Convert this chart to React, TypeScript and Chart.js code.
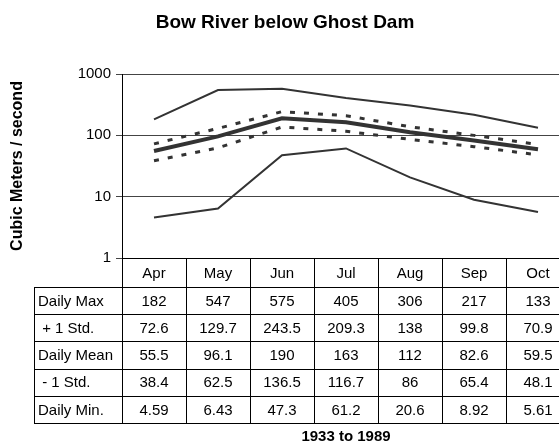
import React, { useEffect, useRef } from "react";
import { Chart, registerables } from "chart.js";

Chart.register(...registerables);

const categories = ["Apr", "May", "Jun", "Jul", "Aug", "Sep", "Oct"];
const dailyMax = [182, 547, 575, 405, 306, 217, 133];
const plusStd = [72.6, 129.7, 243.5, 209.3, 138, 99.8, 70.9];
const dailyMean = [55.5, 96.1, 190, 163, 112, 82.6, 59.5];
const minusStd = [38.4, 62.5, 136.5, 116.7, 86, 65.4, 48.1];
const dailyMin = [4.59, 6.43, 47.3, 61.2, 20.6, 8.92, 5.61];
const rowLabels = ["Daily Max", " + 1 Std.", "Daily Mean", " - 1 Std.", "Daily Min."];
const yTicks = [1, 10, 100, 1000];

const FONT = "'Liberation Sans', Arial, Helvetica, sans-serif";
const LINE = "#333333";

const tablePlugin = {
  id: "dataTable",
  afterDraw(chart: any) {
    const { ctx, chartArea } = chart;
    const xs = chart.scales.x;
    const headerH = 29;
    const rowH = 27.2;
    const labelLeft = 34;
    const n = categories.length;
    const centers = categories.map((_, i) => xs.getPixelForValue(i));
    const edges = [chartArea.left];
    for (let i = 0; i < n - 1; i++) edges.push((centers[i] + centers[i + 1]) / 2);
    edges.push(chartArea.right);
    const top = chartArea.bottom;
    const rowsTop = top + headerH;
    const datasets = chart.data.datasets;
    const bottom = rowsTop + rowH * datasets.length;
    const px = (v: number) => Math.round(v) + 0.5;

    ctx.save();
    ctx.strokeStyle = "#000";
    ctx.lineWidth = 1;
    ctx.beginPath();
    for (let r = 0; r <= datasets.length; r++) {
      const y = px(rowsTop + r * rowH);
      ctx.moveTo(labelLeft, y);
      ctx.lineTo(chartArea.right, y);
    }
    edges.forEach((e) => {
      ctx.moveTo(px(e), top);
      ctx.lineTo(px(e), bottom);
    });
    ctx.moveTo(px(labelLeft), rowsTop);
    ctx.lineTo(px(labelLeft), bottom);
    ctx.stroke();

    ctx.fillStyle = "#000";
    ctx.font = `15px ${FONT}`;
    ctx.textBaseline = "middle";
    datasets.forEach((ds: any, r: number) => {
      const cy = rowsTop + r * rowH + rowH / 2 + 1;
      ctx.textAlign = "left";
      ctx.fillText(ds.label, labelLeft + 4, cy);
      ctx.textAlign = "center";
      ds.data.forEach((v: number, i: number) => {
        ctx.fillText(String(v), centers[i], cy);
      });
    });
    ctx.restore();
  },
};

export default function App() {
  const ref = useRef<HTMLCanvasElement>(null);

  useEffect(() => {
    if (!ref.current) return;
    Chart.defaults.font.family = FONT;
    const series = [dailyMax, plusStd, dailyMean, minusStd, dailyMin];
    const widths = [2, 3, 4, 3, 2];
    const dashes = [[], [5, 9], [], [5, 9], []];
    const chart = new Chart(ref.current, {
      type: "line",
      data: {
        labels: categories,
        datasets: series.map((d, i) => ({
          label: rowLabels[i],
          data: d,
          borderColor: LINE,
          backgroundColor: LINE,
          borderWidth: widths[i],
          borderDash: dashes[i],
          pointRadius: 0,
          tension: 0,
          fill: false,
        })),
      },
      options: {
        responsive: false,
        animation: false,
        devicePixelRatio: 1,
        layout: { padding: { left: 0, right: 5, top: 0, bottom: 0 } },
        plugins: {
          legend: { display: false },
          tooltip: { enabled: false },
          title: {
            display: true,
            text: "Bow River below Ghost Dam",
            color: "#000",
            font: { size: 19, weight: "bold", family: FONT },
            padding: { top: 11, bottom: 40.2 },
          },
        },
        scales: {
          x: {
            type: "category",
            offset: true,
            grid: { display: false, drawTicks: false },
            border: { display: true, color: "#000", width: 1 },
            ticks: { color: "#000", font: { size: 15 }, padding: 7, maxRotation: 0 },
            title: {
              display: true,
              text: "1933 to 1989",
              color: "#000",
              font: { size: 15, weight: "bold" },
              padding: { top: 0, bottom: 0 },
            },
            afterFit: (s: any) => {
              s.height = 446 - 258;
            },
          },
          y: {
            type: "logarithmic",
            min: 1,
            max: 1000,
            afterBuildTicks: (s: any) => {
              s.ticks = yTicks.map((v) => ({ value: v }));
            },
            grid: { color: "#444", lineWidth: 1, tickLength: 6, drawTicks: true },
            border: { display: true, color: "#000", width: 1 },
            ticks: {
              color: "#000",
              font: { size: 15 },
              padding: 5,
              callback: (v: any) => String(v),
            },
            title: {
              display: true,
              text: "Cubic Meters / second",
              color: "#000",
              font: { size: 16, weight: "bold" },
              padding: { top: 8, bottom: 0 },
            },
            afterFit: (s: any) => {
              s.width = 122;
            },
          },
        },
      },
      plugins: [tablePlugin],
    });
    return () => chart.destroy();
  }, []);

  return (
    <div
      style={{
        position: "fixed",
        left: 0,
        top: 0,
        width: 559,
        height: 444,
        overflow: "hidden",
        background: "#fff",
      }}
    >
      <canvas ref={ref} width={575} height={446} style={{ display: "block" }} />
    </div>
  );
}
